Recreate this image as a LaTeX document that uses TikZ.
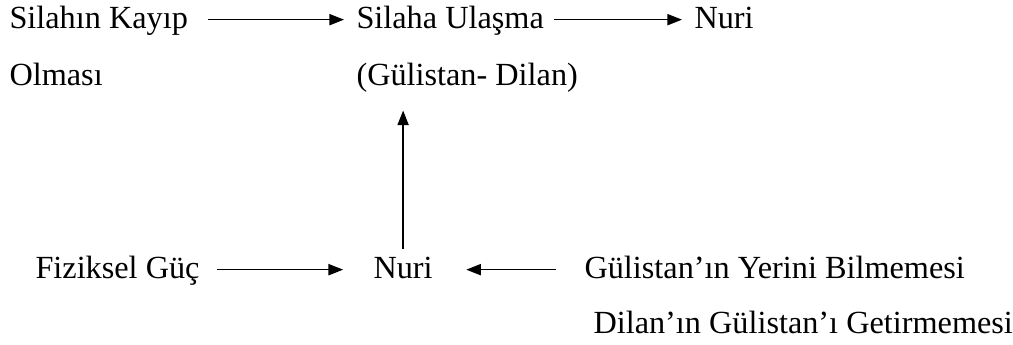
\documentclass[tikz,border=0pt]{standalone}
\usepackage{fontspec}
\setmainfont{Liberation Serif}
\usetikzlibrary{arrows.meta}
\begin{document}
\begin{tikzpicture}[x=0.375pt,y=-0.375pt,
  lbl/.style={anchor=base west,inner sep=0pt,text height=9pt,text depth=2pt,
    font=\fontsize{12.1pt}{14pt}\selectfont},
  arr/.style={-{Triangle[length=5.5pt,width=4.2pt]},line width=0.55pt}]
\useasboundingbox (0,0) rectangle (1013,345);
% top row
\node[lbl] (sk) at (9,29) {Silahın Kayıp};
\node[lbl] (ol) at (9,86) {Olması};
\node[lbl] (su) at (356,29) {Silaha Ulaşma};
\node[lbl] (gd) at (356,86) {(Gülistan- Dilan)};
\node[lbl] (n1) at (694,29) {Nuri};
% bottom row
\node[lbl] (fg) at (35,279) {Fiziksel Güç};
\node[lbl] (n2) at (373,279) {Nuri};
\node[lbl] (gy) at (584,279) {Gülistan’ın Yerini Bilmemesi};
\node[lbl] (dg) at (593,334) {Dilan’ın Gülistan’ı Getirmemesi};
% connectors
\draw[arr,shorten <=7.5pt,shorten >=4.5pt] (sk.east) -- (su.west);
\draw[arr,shorten <=3.75pt,shorten >=4.5pt] (su.east) -- (n1.west);
\draw[arr,shorten <=6.4pt,shorten >=11.2pt] (fg.east) -- (n2.west);
\draw[arr,shorten <=10.5pt,shorten >=12.4pt] (gy.west) -- (n2.east);
\draw[arr,shorten <=2.2pt,shorten >=7pt] (n2.north) -- (n2.north |- gd.south);
\end{tikzpicture}
\end{document}
